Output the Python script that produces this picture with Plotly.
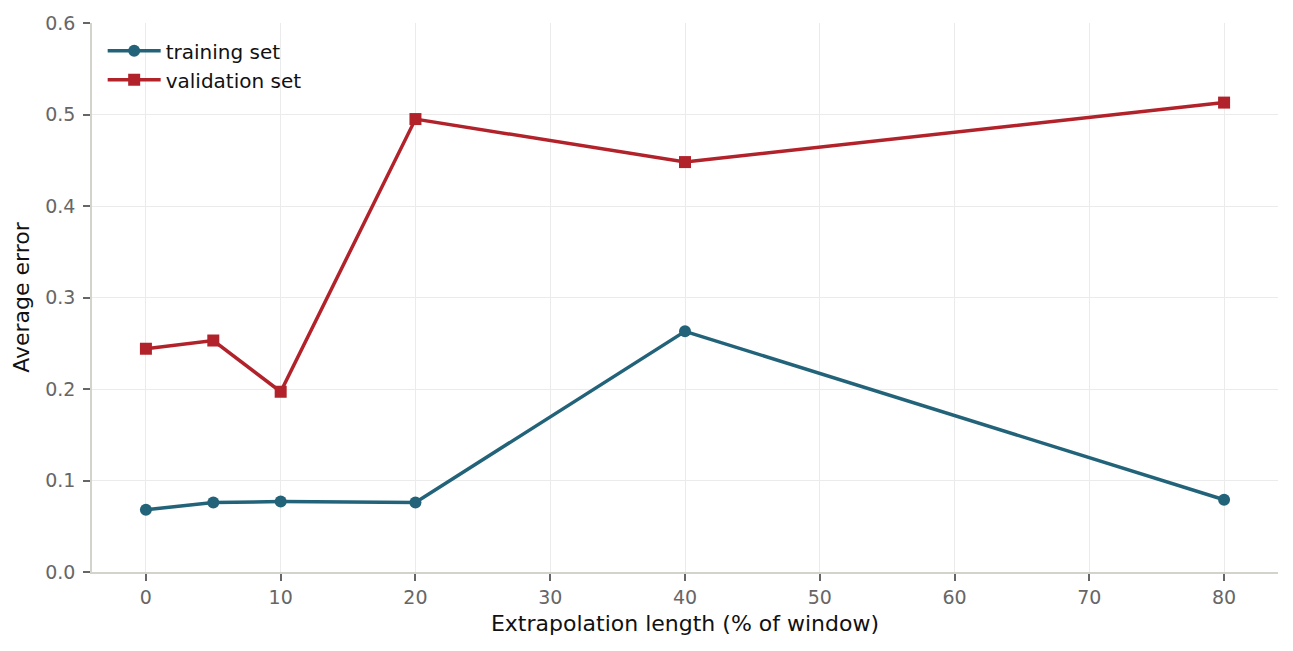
import plotly.graph_objects as go

# extrapolation length (% of window)
ext_len = [0, 5, 10, 20, 40, 80]
train_err = [0.068, 0.076, 0.077, 0.076, 0.263, 0.079]
val_err = [0.244, 0.253, 0.197, 0.495, 0.448, 0.513]

fig = go.Figure()

fig.add_trace(go.Scatter(
    x=ext_len, y=train_err,
    mode='lines+markers',
    name='training set',
    line=dict(color='#22637a', width=3.5),
    marker=dict(symbol='circle', size=12, color='#22637a'),
))

fig.add_trace(go.Scatter(
    x=ext_len, y=val_err,
    mode='lines+markers',
    name='validation set',
    line=dict(color='#b2222a', width=3.5),
    marker=dict(symbol='square', size=12, color='#b2222a'),
))

axis_common = dict(
    showline=True, linecolor='#d3d3cb', linewidth=1.5,
    showgrid=True, gridcolor='#ebebeb', gridwidth=1,
    ticks='outside', ticklen=7, tickwidth=1.5, tickcolor='#666666',
    tickfont=dict(size=19, color='#666666'),
    zeroline=False,
)

fig.update_layout(
    width=1293, height=651,
    paper_bgcolor='white', plot_bgcolor='white',
    font=dict(family='DejaVu Sans', size=18, color='#111111'),
    margin=dict(l=92, r=15, t=23, b=79),
    showlegend=True,
    legend=dict(
        x=0.009, y=0.985, xanchor='left', yanchor='top',
        bgcolor='rgba(255,255,255,0)', font=dict(size=20, color='#111111'),
        tracegroupgap=0, itemwidth=53,
    ),
    xaxis=dict(
        range=[-4, 84], tickvals=[0, 10, 20, 30, 40, 50, 60, 70, 80],
        title=dict(text='Extrapolation length (% of window)', font=dict(size=22), standoff=9),
        **axis_common,
    ),
    yaxis=dict(
        range=[0, 0.6], dtick=0.1, tickformat='.1f', ticklabelstandoff=4,
        title=dict(text='Average error', font=dict(size=22), standoff=10),
        **axis_common,
    ),
)

fig.write_html("out.html", config={'displayModeBar': False},
               post_script="document.body.style.margin='0';")
